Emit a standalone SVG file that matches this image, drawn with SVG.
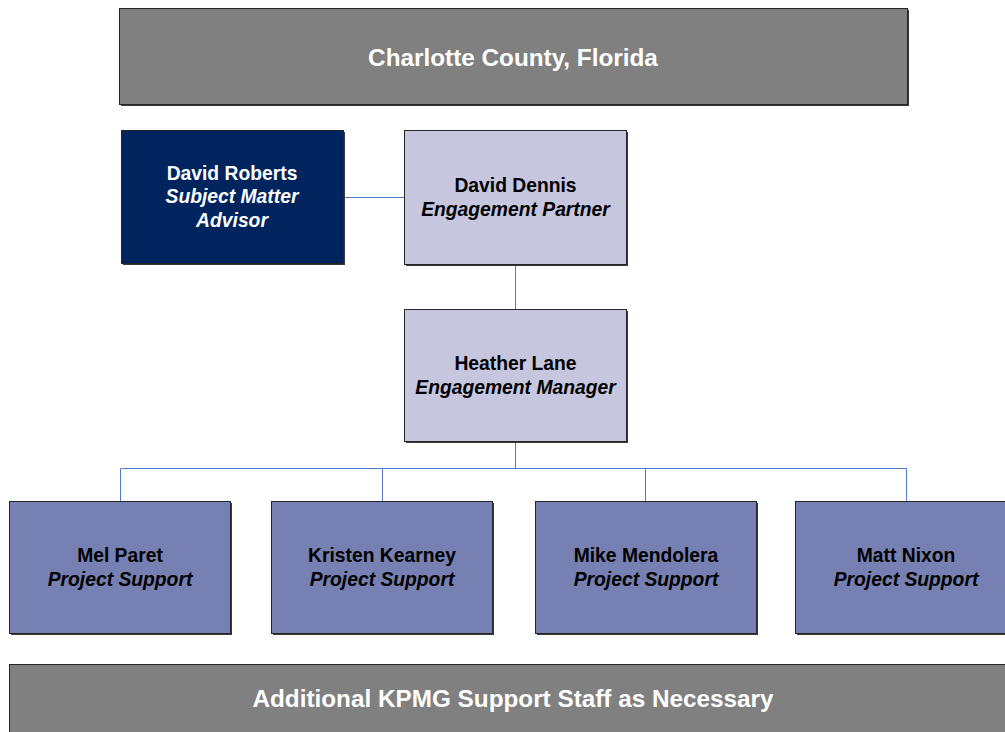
<svg xmlns="http://www.w3.org/2000/svg" width="1005" height="732" viewBox="0 0 1005 732">
  <style>
    .box { stroke: #262626; stroke-width: 1; }
    .shadow { fill: #3a3a3a; }
    .banner { fill: #808080; }
    .lead { fill: #C6C6DF; }
    .advisor { fill: #00245E; }
    .staff { fill: #7680B2; }
    .conn { fill: none; stroke: #4F7BC8; stroke-width: 1; }
    text { font-family: "Liberation Sans", Arial, sans-serif; font-weight: bold; text-anchor: middle; }
    .big { font-size: 24.3px; fill: #ffffff; }
    .name { font-size: 19.3px; fill: #000000; }
    .role { font-size: 19.3px; font-style: italic; fill: #000000; }
    .light { fill: #ffffff; }
  </style>

  <g id="connectors">
    <line class="conn" x1="343" y1="197.5" x2="404" y2="197.5"/>
    <line class="conn" x1="515.5" y1="265" x2="515.5" y2="309"/>
    <line class="conn" x1="515.5" y1="442" x2="515.5" y2="468.5"/>
    <line class="conn" x1="120.5" y1="468.5" x2="906.5" y2="468.5"/>
    <line class="conn" x1="120.5" y1="468.5" x2="120.5" y2="501"/>
    <line class="conn" x1="382.5" y1="468.5" x2="382.5" y2="501"/>
    <line class="conn" x1="645.5" y1="468.5" x2="645.5" y2="501"/>
    <line class="conn" x1="906.5" y1="468.5" x2="906.5" y2="501"/>
  </g>

  <g id="county">
    <rect class="shadow" x="121" y="10" width="788" height="96"/>
    <rect class="box banner" x="119.5" y="8.5" width="788" height="96"/>
    <text class="big" x="513" y="66">Charlotte County, Florida</text>
  </g>

  <g id="david-roberts">
    <rect class="shadow" x="123" y="132" width="222" height="133"/>
    <rect class="box advisor" x="121.5" y="130.5" width="222" height="133"/>
    <text class="name light" x="232" y="180">David Roberts</text>
    <text class="role light" x="232" y="203">Subject Matter</text>
    <text class="role light" x="232" y="227">Advisor</text>
  </g>

  <g id="david-dennis">
    <rect class="shadow" x="406" y="132" width="222" height="134"/>
    <rect class="box lead" x="404.5" y="130.5" width="222" height="134"/>
    <text class="name" x="515.5" y="192">David Dennis</text>
    <text class="role" x="515.5" y="216">Engagement Partner</text>
  </g>

  <g id="heather-lane">
    <rect class="shadow" x="406" y="311" width="222" height="132"/>
    <rect class="box lead" x="404.5" y="309.5" width="222" height="132"/>
    <text class="name" x="515.5" y="370">Heather Lane</text>
    <text class="role" x="515.5" y="394">Engagement Manager</text>
  </g>

  <g id="mel-paret">
    <rect class="shadow" x="11" y="503" width="221" height="132"/>
    <rect class="box staff" x="9.5" y="501.5" width="221" height="132"/>
    <text class="name" x="120" y="562">Mel Paret</text>
    <text class="role" x="120" y="586">Project Support</text>
  </g>

  <g id="kristen-kearney">
    <rect class="shadow" x="273" y="503" width="221" height="132"/>
    <rect class="box staff" x="271.5" y="501.5" width="221" height="132"/>
    <text class="name" x="382" y="562">Kristen Kearney</text>
    <text class="role" x="382" y="586">Project Support</text>
  </g>

  <g id="mike-mendolera">
    <rect class="shadow" x="537" y="503" width="221" height="132"/>
    <rect class="box staff" x="535.5" y="501.5" width="221" height="132"/>
    <text class="name" x="646" y="562">Mike Mendolera</text>
    <text class="role" x="646" y="586">Project Support</text>
  </g>

  <g id="matt-nixon">
    <rect class="shadow" x="797" y="503" width="221" height="132"/>
    <rect class="box staff" x="795.5" y="501.5" width="221" height="132"/>
    <text class="name" x="906" y="562">Matt Nixon</text>
    <text class="role" x="906" y="586">Project Support</text>
  </g>

  <g id="support-staff">
    <rect class="box banner" x="9.5" y="664.5" width="1010" height="80"/>
    <text class="big" x="513" y="707">Additional KPMG Support Staff as Necessary</text>
  </g>
</svg>
